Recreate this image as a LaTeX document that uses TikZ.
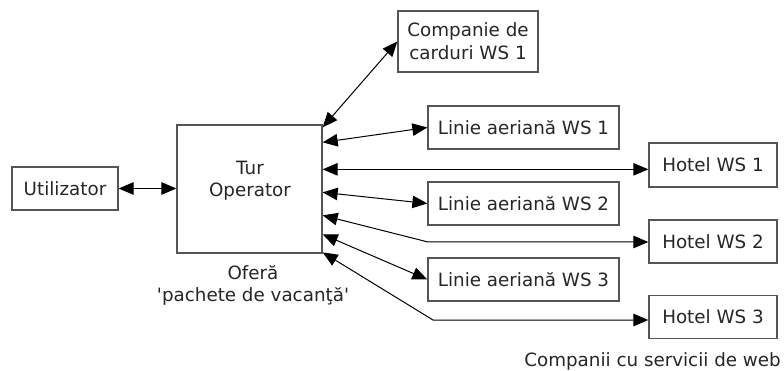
\documentclass[tikz,border=0pt]{standalone}
\usepackage{fontspec}
\setmainfont{DejaVu Sans}[Ligatures=TeXOff]
\usetikzlibrary{arrows.meta,calc}
\definecolor{boxgray}{HTML}{555555}
\definecolor{txtgray}{HTML}{262626}
\begin{document}
\begin{tikzpicture}[x=1pt,y=-1pt,
  box/.style={draw=boxgray, line width=1.3pt, minimum width=#1, minimum height=43pt,
    inner sep=0pt, text=txtgray, font=\fontsize{18.3}{23}\selectfont, align=center},
  lbl/.style={text=txtgray, font=\fontsize{18.3}{22}\selectfont, align=center, inner sep=0pt},
  link/.style={draw=black, line width=1pt,
    {Triangle[length=15pt,width=12.5pt]}-{Triangle[length=15pt,width=12.5pt]}}]
\useasboundingbox (0,0) rectangle (784,371);

% boxes
\node[box=106pt] (user) at (65,188.5) {Utilizator};
\node[box=145pt, minimum height=128pt] (tur) at (249.5,189) {};
\node[lbl] (turtxt) at (250,181) {Tur\\Operator};
\node[lbl] (offer) at (253,285) {Oferă\\'pachete de vacanţă'};
\node[box=140pt, minimum height=61pt] (card) at (468,41.5) {Companie de\\carduri WS 1};
\node[box=191pt] (air1) at (523.5,127.5) {Linie aeriană WS 1};
\node[box=191pt] (air2) at (523.5,203.5) {Linie aeriană WS 2};
\node[box=191pt] (air3) at (523.5,279.5) {Linie aeriană WS 3};
\node[box=128pt, minimum height=44pt] (hotel1) at (713,165) {Hotel WS 1};
\node[box=128pt] (hotel2) at (713,241.5) {Hotel WS 2};
\node[box=128pt] (hotel3) at (713,317) {Hotel WS 3};
\node[lbl, anchor=east] (web) at (781,361) {Companii cu servicii de web};

% attachment points on the right side of the tour operator
\coordinate (t1) at ($(tur.north east)+(0,3)$);
\coordinate (t2) at ($(tur.north east)+(0,18)$);
\coordinate (t3) at ($(tur.north east)+(0,45)$);
\coordinate (t4) at ($(tur.north east)+(0,68)$);
\coordinate (t5) at ($(tur.north east)+(0,91)$);
\coordinate (t6) at ($(tur.north east)+(0,110)$);
\coordinate (t7) at ($(tur.north east)+(0,128)$);
\coordinate (b5) at (428,242);
\coordinate (b7) at (433,320);

% connectors
\draw[link] (user) -- (tur.west |- user);
\draw[link] (t1) -- (card.west);
\draw[link] (t2) -- (air1.west);
\draw[link] (t3) -- (hotel1.west |- t3);
\draw[link] (t4) -- (air2.west);
\draw[link] (t5) -- (b5) -- (hotel2.west |- b5);
\draw[link] (t6) -- (air3.west);
\draw[link] (t7) -- (b7) -- (hotel3.west |- b7);
\end{tikzpicture}
\end{document}
